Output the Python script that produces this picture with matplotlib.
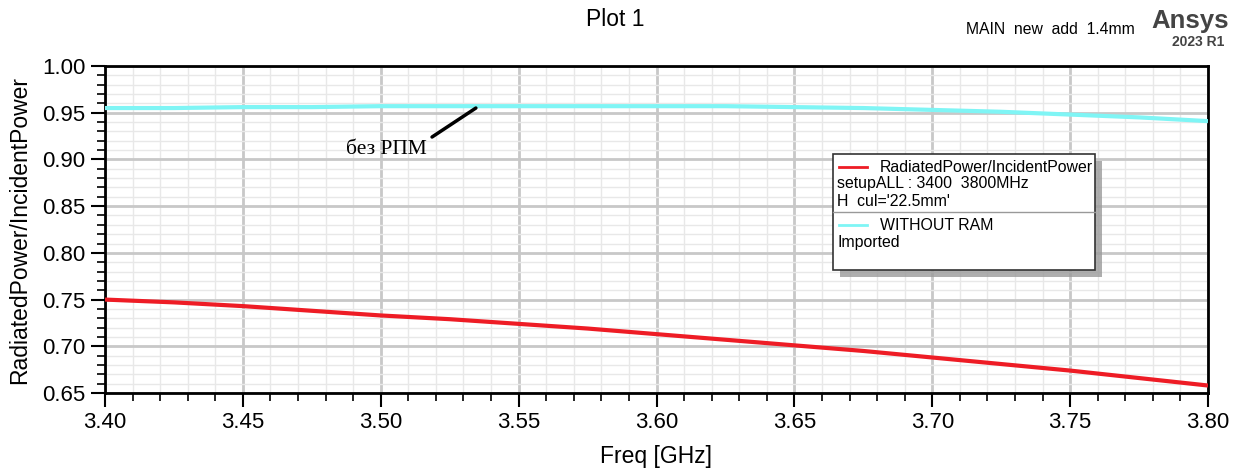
import matplotlib
matplotlib.use("Agg")
import matplotlib.pyplot as plt
from matplotlib.ticker import MultipleLocator, FormatStrFormatter
from matplotlib.patches import Rectangle
from matplotlib.lines import Line2D

plt.rcParams['font.family'] = ['Liberation Sans', 'DejaVu Sans']

# Frequency sweep (GHz)
freq = [3.400, 3.425, 3.450, 3.475, 3.500, 3.525, 3.550, 3.575, 3.600,
        3.625, 3.650, 3.675, 3.700, 3.725, 3.750, 3.775, 3.800]

# Radiated / incident power ratio with absorber (H_cul = 22.5 mm)
ratio_with = [0.750, 0.747, 0.743, 0.738, 0.733, 0.729, 0.724, 0.719, 0.713,
              0.707, 0.701, 0.695, 0.688, 0.681, 0.674, 0.666, 0.658]

# Imported reference: without RAM
ratio_without = [0.955, 0.955, 0.956, 0.956, 0.957, 0.957, 0.957, 0.957, 0.957,
                 0.957, 0.956, 0.955, 0.953, 0.951, 0.948, 0.945, 0.941]

W, H = 1243, 468
fig = plt.figure(figsize=(W / 100, H / 100), dpi=100)
ax = fig.add_axes([105 / W, 1 - 393 / H, (1208 - 105) / W, (393 - 66) / H])

ax.plot(freq, ratio_without, color='#7ff5f5', lw=3, solid_capstyle='butt', zorder=3)
ax.plot(freq, ratio_with, color='#ee1c25', lw=3, solid_capstyle='butt', zorder=3)

ax.set_xlim(3.40, 3.80)
ax.set_ylim(0.65, 1.00)
ax.xaxis.set_major_locator(MultipleLocator(0.05))
ax.xaxis.set_minor_locator(MultipleLocator(0.01))
ax.yaxis.set_major_locator(MultipleLocator(0.05))
ax.yaxis.set_minor_locator(MultipleLocator(0.01))
ax.xaxis.set_major_formatter(FormatStrFormatter('%.2f'))
ax.yaxis.set_major_formatter(FormatStrFormatter('%.2f'))

ax.grid(which='major', color='#c8c8c8', lw=2, zorder=1)
ax.grid(which='minor', color='#e8e8e8', lw=1, zorder=0)
ax.set_axisbelow(True)

for s in ax.spines.values():
    s.set_linewidth(2)
    s.set_color('black')

ax.tick_params(which='major', direction='out', length=10, width=1.5,
               labelsize=16, pad=4, colors='black')
ax.tick_params(which='minor', direction='out', length=6, width=1.2)

ax.set_xlabel('Freq [GHz]', fontsize=16.5, labelpad=8)
ax.set_ylabel('RadiatedPower/IncidentPower', fontsize=16.5, labelpad=8)

# Titles and branding
fig.text(615 / W, 1 - 20 / H, 'Plot 1', fontsize=16.5, ha='center', va='center')
fig.text(1050 / W, 1 - 30 / H, 'MAIN  new  add  1.4mm', fontsize=11.3,
         ha='center', va='center')
fig.text(1190 / W, 1 - 21 / H, 'Ansys', fontsize=18.5, fontweight='bold',
         color='#444444', ha='center', va='center')
fig.text(1198 / W, 1 - 42 / H, '2023 R1', fontsize=10, fontweight='bold',
         color='#444444', ha='center', va='center')

# Annotation for the reference trace
ax.annotate('', xy=(3.5345, 0.955), xytext=(3.5186, 0.924),
            arrowprops=dict(arrowstyle='-', color='black', lw=2.5,
                            shrinkA=0, shrinkB=0))
ax.text(3.4875, 0.911, 'без РПМ', fontsize=15.5,
        family=['Liberation Serif', 'DejaVu Serif'], ha='left', va='center')

# Legend box with drop shadow
lx0, ly0, lx1, ly1 = 833, 154, 1095, 270


def fx(px):
    return px / W


def fy(py):
    return 1 - py / H


shadow = Rectangle((fx(lx0 + 7), fy(ly1 + 7)), (lx1 - lx0) / W, (ly1 - ly0) / H,
                   transform=fig.transFigure, facecolor='#9a9a9a',
                   edgecolor='none', zorder=9, alpha=0.8)
box = Rectangle((fx(lx0), fy(ly1)), (lx1 - lx0) / W, (ly1 - ly0) / H,
                transform=fig.transFigure, facecolor='white',
                edgecolor='#333333', lw=1.2, zorder=10)
fig.add_artist(shadow)
fig.add_artist(box)
fig.add_artist(Line2D([fx(lx0), fx(lx1)], [fy(212), fy(212)],
                      transform=fig.transFigure, color='#999999', lw=1, zorder=11))
fig.add_artist(Line2D([fx(839), fx(867)], [fy(167), fy(167)],
                      transform=fig.transFigure, color='#ee1c25', lw=2, zorder=11))
fig.add_artist(Line2D([fx(839), fx(867)], [fy(225), fy(225)],
                      transform=fig.transFigure, color='#7ff5f5', lw=2, zorder=11))
legend_fs = 11.4
fig.text(fx(880), fy(167), 'RadiatedPower/IncidentPower', fontsize=legend_fs,
         va='center', zorder=12)
fig.text(fx(837), fy(184), 'setupALL : 3400  3800MHz', fontsize=legend_fs,
         va='center', zorder=12)
fig.text(fx(837), fy(201), "H  cul='22.5mm'", fontsize=legend_fs,
         va='center', zorder=12)
fig.text(fx(880), fy(225), 'WITHOUT RAM', fontsize=legend_fs,
         va='center', zorder=12)
fig.text(fx(837), fy(242), 'Imported', fontsize=legend_fs,
         va='center', zorder=12)

fig.savefig('out.png', dpi=100, facecolor='white')
